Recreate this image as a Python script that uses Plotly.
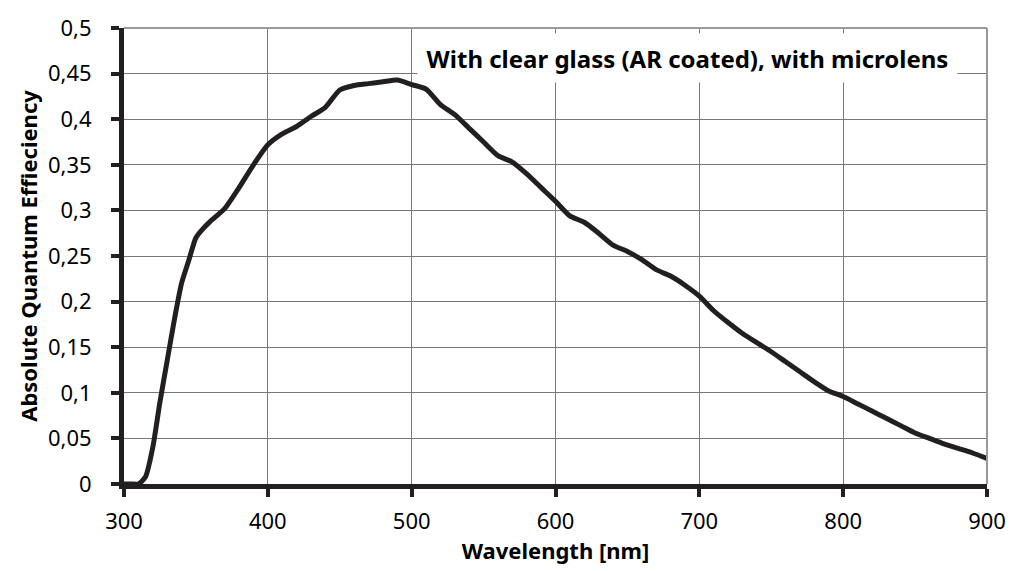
import plotly.graph_objects as go

wavelength = [300, 305, 310, 315, 320, 325, 330, 335, 340, 345, 350, 355, 360, 370, 380, 390,
              400, 410, 420, 430, 440, 450, 460, 470, 480, 490, 500, 510, 520, 530, 540, 550,
              560, 570, 580, 590, 600, 610, 620, 630, 640, 650, 660, 670, 680, 690, 700, 710,
              720, 730, 740, 750, 760, 770, 780, 790, 800, 810, 820, 830, 840, 850, 860, 870,
              880, 890, 900]
qe = [0.0, 0.0, 0.0, 0.008, 0.04, 0.09, 0.135, 0.18, 0.22, 0.245, 0.27, 0.28, 0.288, 0.302, 0.325, 0.35,
      0.372, 0.384, 0.392, 0.403, 0.413, 0.432, 0.437, 0.439, 0.441, 0.443, 0.438, 0.433, 0.416, 0.405, 0.39, 0.375,
      0.36, 0.353, 0.34, 0.325, 0.31, 0.294, 0.287, 0.275, 0.262, 0.255, 0.246, 0.235, 0.228, 0.218, 0.206, 0.19,
      0.177, 0.165, 0.155, 0.145, 0.134, 0.123, 0.112, 0.102, 0.096, 0.088, 0.08, 0.072, 0.064, 0.056, 0.05, 0.044,
      0.039, 0.034, 0.028]

x_ticks = [300, 400, 500, 600, 700, 800, 900]
y_ticks = [0, 0.05, 0.1, 0.15, 0.2, 0.25, 0.3, 0.35, 0.4, 0.45, 0.5]
y_labels = ["0", "0,05", "0,1", "0,15", "0,2", "0,25", "0,3", "0,35", "0,4", "0,45", "0,5"]
label = "With clear glass (AR coated), with microlens"

font = "Noto Sans"
fs = 22

fig = go.Figure()
fig.add_trace(go.Scatter(x=wavelength, y=qe, mode="lines",
                         line=dict(color="#231f20", width=5, shape="spline", smoothing=0.6),
                         showlegend=False, hoverinfo="skip"))

fig.update_layout(
    width=1018, height=571,
    margin=dict(l=124, r=25, t=18, b=87),
    paper_bgcolor="white", plot_bgcolor="white",
    font=dict(family=font, color="black", size=fs),
)
fig.update_xaxes(range=[300, 900], tickvals=x_ticks, ticktext=[str(v) for v in x_ticks],
                 showgrid=True, gridcolor="#777777", gridwidth=1,
                 showline=True, linecolor="#231f20", linewidth=5,
                 ticks="outside", ticklen=8, tickwidth=4, tickcolor="#231f20",
                 ticklabelstandoff=6,
                 tickfont=dict(size=fs, family=font),
                 title=dict(text="<b>Wavelength [nm]</b>", font=dict(size=fs, family=font), standoff=4),
                 zeroline=False, fixedrange=True)
fig.update_yaxes(range=[0, 0.5], tickvals=y_ticks, ticktext=y_labels,
                 showgrid=True, gridcolor="#777777", gridwidth=1,
                 showline=True, linecolor="#231f20", linewidth=5,
                 ticks="outside", ticklen=8, tickwidth=4, tickcolor="#231f20",
                 ticklabelstandoff=15,
                 tickfont=dict(size=fs, family=font),
                 title=dict(text="<b>Absolute Quantum Effieciency</b>", font=dict(size=fs, family=font), standoff=6),
                 zeroline=False, fixedrange=True)

# top and right frame lines (gray)
fig.add_shape(type="line", xref="paper", yref="paper", x0=0, x1=1, y0=1, y1=1,
              line=dict(color="#999999", width=2))
fig.add_shape(type="line", xref="paper", yref="paper", x0=1, x1=1, y0=0, y1=1,
              line=dict(color="#999999", width=2))

fig.add_annotation(x=692, y=0.467, xref="x", yref="y", text="<b>" + label + "</b>",
                   showarrow=False, bgcolor="white", width=537, height=46,
                   font=dict(size=24, family=font, color="black"))

fig.write_html("out.html")
